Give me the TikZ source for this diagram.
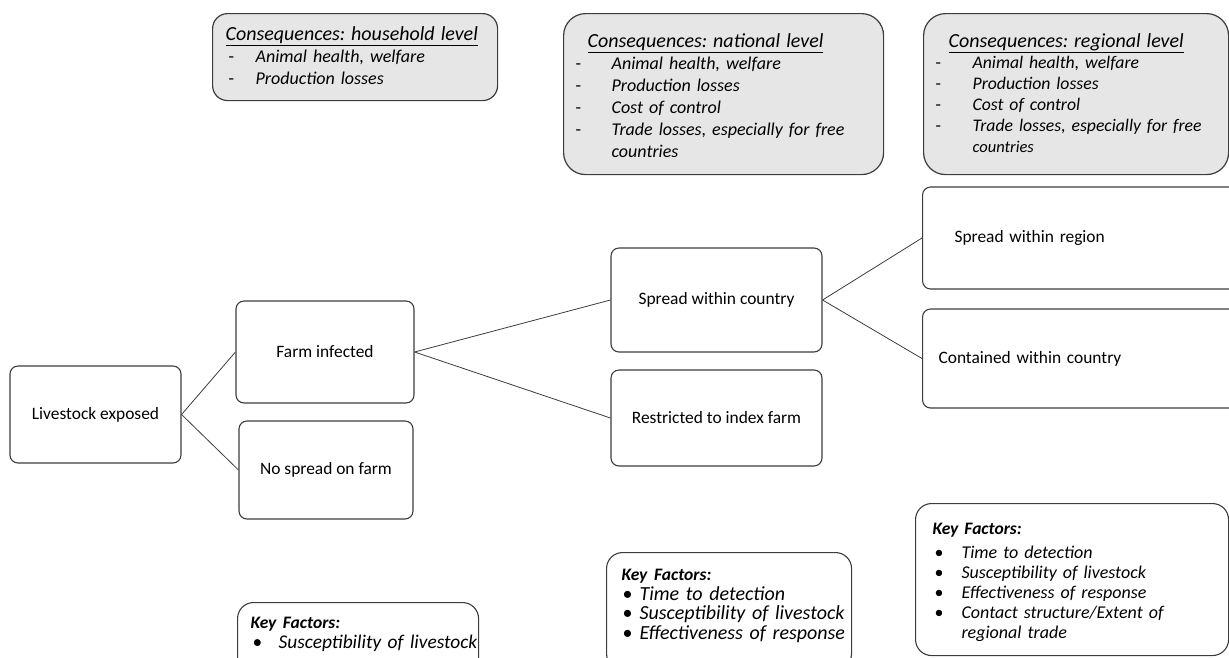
\documentclass[tikz,border=0pt]{standalone}
\usepackage{fontspec}
\setmainfont{Carlito}
\usetikzlibrary{positioning}
\frenchspacing

\definecolor{boxgrey}{RGB}{231,230,230}
\definecolor{edgegrey}{RGB}{60,60,60}
% one line of a consequence list / of a key factor list
\newcommand{\dashline}[2]{\mbox{\makebox[#1pt][l]{-}\textit{#2}}}
\newcommand{\bulline}[2]{\mbox{\makebox[#1pt][l]{\textbullet}\textit{#2}}}
\newcommand{\conhead}[1]{\underline{\fontsize{20}{22}\selectfont\textit{#1}}}
\newcommand{\kfhead}[1]{{\fontsize{17.5}{20}\selectfont\textbf{\textit{#1}}}}

\begin{document}
\begin{tikzpicture}[x=1pt,y=-1pt,
  stage/.style={draw=edgegrey,line width=1.1pt,rounded corners=8pt,align=center,font=\fontsize{17.4}{20}\selectfont},
  conseq/.style={draw=edgegrey,fill=boxgrey,line width=1.2pt,rounded corners=22pt,anchor=north west,align=left,inner ysep=0pt,font=\fontsize{18}{22}\selectfont},
  factors/.style={draw=edgegrey,line width=1.1pt,rounded corners=16pt,anchor=north west,align=left,inner ysep=0pt},
  link/.style={draw=edgegrey,line width=0.8pt}]
  \useasboundingbox (0,0) rectangle (1229,657);
  \clip (0,0) rectangle (1229,657);

  % the stages of the outbreak
  \node[stage,minimum width=171,minimum height=97] (exposed) at (95.5,414.5) {Livestock exposed};
  \node[stage,minimum width=178,minimum height=102] (infected) at (325,352) {Farm infected};
  \node[stage,minimum width=174,minimum height=98] (nospread) at (326,470) {No spread on farm};
  \node[stage,minimum width=211,minimum height=104] (country) at (716.5,300) {Spread within country};
  \node[stage,minimum width=211,minimum height=96] (index) at (716.5,418) {Restricted to index farm};
  \node[stage,anchor=west,align=left,inner xsep=32,text width=266,minimum height=102] (region) at (922,238) {Spread within region};
  \node[stage,anchor=west,align=left,inner xsep=16,text width=298,minimum height=99] (contained) at (922,358.5) {Contained within country};

  \draw[link] (exposed.east) -- (infected.west);
  \draw[link] (exposed.east) -- (nospread.west);
  \draw[link] (infected.east) -- (country.west);
  \draw[link] (infected.east) -- (index.west);
  \draw[link] (country.east) -- (region.west);
  \draw[link] (country.east) -- (contained.west);

  % consequences at each level
  \node[conseq,rounded corners=15pt,inner xsep=16,text width=253] (household) at (212,13)
    {\rule{0pt}{27pt}\hspace*{-3pt}\conhead{Consequences: household level}\\
     \dashline{27}{Animal health, welfare}\\
     \dashline{27}{Production losses}\rule[-16pt]{0pt}{16pt}};
  \node[conseq,inner xsep=12,text width=296] (national) at (563,13)
    {\rule{0pt}{34pt}\hspace*{12pt}\conhead{Consequences: national level}\\
     \dashline{36}{Animal health, welfare}\\
     \dashline{36}{Production losses}\\
     \dashline{36}{Cost of control}\\
     \dashline{36}{Trade losses, especially for free}\\
     \makebox[36pt]{}\textit{countries}\rule[-17pt]{0pt}{17pt}};
  \node[conseq,inner xsep=12,text width=281,font=\fontsize{17.7}{21}\selectfont] (regional) at (923,13)
    {\rule{0pt}{34pt}\hspace*{13pt}\conhead{Consequences: regional level}\\
     \dashline{37}{Animal health, welfare}\\
     \dashline{37}{Production losses}\\
     \dashline{37}{Cost of control}\\
     \dashline{37}{Trade losses, especially for free}\\
     \makebox[37pt]{}{\fontsize{16.5}{21}\selectfont\textit{countries}}\rule[-22pt]{0pt}{22pt}};

  % key factors
  \node[factors,inner xsep=15,text width=211,font=\fontsize{19.4}{20}\selectfont] (factorsfarm) at (237,602)
    {\rule{0pt}{26pt}\hspace*{-2pt}\kfhead{Key Factors:}\\
     \bulline{26}{Susceptibility of livestock}\rule[-30pt]{0pt}{30pt}};
  \node[factors,inner xsep=16,text width=213,font=\fontsize{20}{19.7}\selectfont] (factorscountry) at (606,552)
    {\rule{0pt}{28pt}\hspace*{-1pt}\kfhead{Key Factors:}\\
     \bulline{17}{Time to detection}\\
     \bulline{17}{Susceptibility of livestock}\\
     \bulline{17}{Effectiveness of response}\rule[-30pt]{0pt}{30pt}};
  \node[factors,inner xsep=19,text width=275,font=\fontsize{18}{20}\selectfont] (factorsregion) at (915,503)
    {\rule{0pt}{31pt}\hspace*{-2pt}\kfhead{Key Factors:}\\[4pt]
     \bulline{27}{Time to detection}\\
     \bulline{27}{Susceptibility of livestock}\\
     \bulline{27}{Effectiveness of response}\\
     \bulline{27}{Contact structure/Extent of}\\
     \makebox[27pt]{}\textit{regional trade}\rule[-17pt]{0pt}{17pt}};
\end{tikzpicture}
\end{document}
